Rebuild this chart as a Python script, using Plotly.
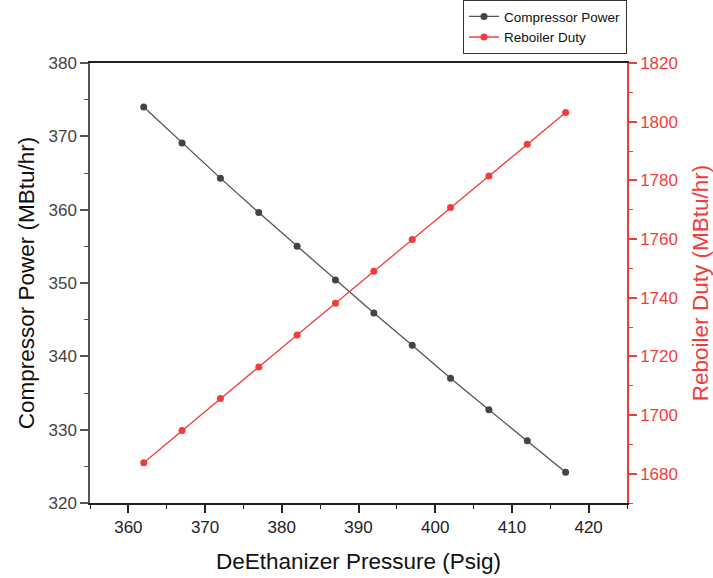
import plotly.graph_objects as go

pressure = [362, 367, 372, 377, 382, 387, 392, 397, 402, 407, 412, 417]
compressor_power = [374.0, 369.1, 364.3, 359.6, 355.0, 350.4, 345.9, 341.5, 337.0, 332.7, 328.5, 324.2]
reboiler_duty = [1683.7, 1694.7, 1705.6, 1716.4, 1727.3, 1738.1, 1749.0, 1759.8, 1770.7, 1781.5, 1792.3, 1803.1]

BLACK = "#444444"
RED = "#f23c3c"
FONT = "Arial, Liberation Sans, sans-serif"

fig = go.Figure()
fig.add_trace(go.Scatter(
    x=pressure, y=compressor_power, name="Compressor Power",
    mode="lines+markers",
    line=dict(color="#555555", width=1.3),
    marker=dict(color=BLACK, size=7),
    yaxis="y",
))
fig.add_trace(go.Scatter(
    x=pressure, y=reboiler_duty, name="Reboiler Duty",
    mode="lines+markers",
    line=dict(color=RED, width=1.3),
    marker=dict(color=RED, size=7),
    yaxis="y2",
))

fig.update_layout(
    width=713, height=578,
    margin=dict(l=90, r=86, t=63, b=75, autoexpand=False),
    paper_bgcolor="white", plot_bgcolor="white",
    font=dict(family=FONT, color="#222222"),
    showlegend=True,
    legend=dict(
        xref="paper", x=1.0, xanchor="right",
        yref="container", y=0.953, yanchor="middle",
        bordercolor="#333333", borderwidth=1, bgcolor="white",
        font=dict(size=13.5, family=FONT, color="#111111"),
        tracegroupgap=0, itemwidth=30,
    ),
    xaxis=dict(
        range=[355, 425], dtick=10, tick0=360,
        showgrid=False, zeroline=False,
        showline=True, linecolor="#222222", linewidth=1.5, mirror=True,
        ticks="outside", ticklen=8, tickwidth=1.5, tickcolor="#222222",
        minor=dict(dtick=5, tick0=355, ticks="outside", ticklen=4, tickcolor="#222222", tickwidth=1.2),
        tickfont=dict(size=17, color="#222222"),
        title=dict(text="DeEthanizer Pressure (Psig)", font=dict(size=22.5, color="#111111"), standoff=17),
    ),
    yaxis=dict(
        range=[320, 380], dtick=10, tick0=320,
        showgrid=False, zeroline=False,
        showline=True, linecolor="#555555", linewidth=1.5,
        ticks="outside", ticklen=8, tickwidth=1.5, tickcolor="#555555",
        minor=dict(dtick=5, tick0=320, ticks="outside", ticklen=4, tickcolor="#555555", tickwidth=1.2),
        tickfont=dict(size=17, color="#444444"),
        title=dict(text="Compressor Power (MBtu/hr)", font=dict(size=22.5, color="#111111"), standoff=8),
    ),
    yaxis2=dict(
        range=[1670, 1820], dtick=20, tick0=1680,
        overlaying="y", side="right", anchor="x",
        showgrid=False, zeroline=False,
        showline=True, linecolor=RED, linewidth=1.5,
        ticks="outside", ticklen=8, tickwidth=1.5, tickcolor=RED,
        minor=dict(dtick=10, tick0=1670, ticks="outside", ticklen=4, tickcolor=RED, tickwidth=1.2),
        tickfont=dict(size=17, color=RED),
        title=dict(text="Reboiler Duty (MBtu/hr)", font=dict(size=22.5, color=RED), standoff=15),
    ),
)

fig.write_html("out.html")
